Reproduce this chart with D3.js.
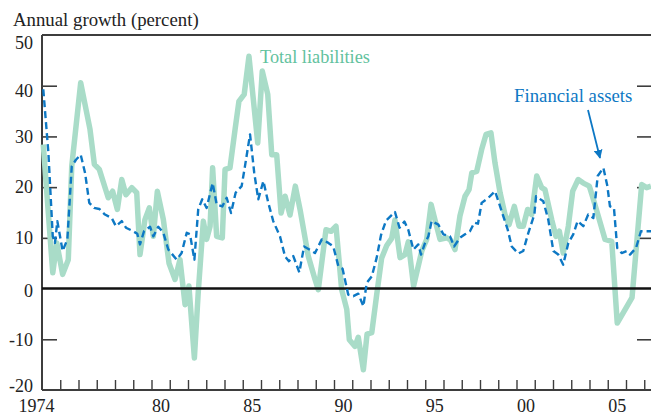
<!DOCTYPE html>
<html><head><meta charset="utf-8">
<script src="https://cdn.jsdelivr.net/npm/d3@7"></script>
<style>
html,body{margin:0;padding:0;background:#fff;}
svg{display:block;font-family:"Liberation Serif","DejaVu Serif",serif;}
</style></head>
<body><svg id="c" width="651" height="415"></svg>
<script>
// ---- data ----
const liabYears = [1974.07,1974.59,1974.81,1975.13,1975.44,1975.63,1976.12,1976.63,1976.87,1977.14,1977.63,1977.87,1978.13,1978.37,1978.60,1978.92,1979.19,1979.37,1979.64,1979.88,1980.10,1980.32,1980.65,1980.96,1981.29,1981.56,1981.84,1982.05,1982.35,1982.56,1982.84,1983.02,1983.21,1983.35,1983.57,1983.88,1984.03,1984.30,1984.58,1984.79,1985.08,1985.34,1985.58,1985.82,1986.07,1986.37,1986.59,1986.86,1987.10,1987.32,1987.59,1987.88,1988.14,1988.59,1988.96,1989.14,1989.56,1989.84,1990.11,1990.42,1990.70,1990.84,1991.15,1991.33,1991.61,1991.81,1992.07,1992.34,1992.61,1992.89,1993.16,1993.34,1993.62,1993.89,1994.07,1994.36,1994.81,1995.08,1995.32,1995.53,1995.81,1996.18,1996.38,1996.63,1996.90,1997.18,1997.40,1997.55,1997.82,1998.09,1998.33,1998.60,1998.82,1999.10,1999.37,1999.59,1999.88,2000.14,2000.37,2000.61,2000.83,2001.11,2001.38,2001.56,2001.93,2002.16,2002.35,2002.56,2002.84,2003.08,2003.38,2003.66,2003.99,2004.21,2004.48,2004.85,2005.22,2005.52,2006.33,2006.86,2007.13,2007.37];
const liabValues = [28.4,3.1,9.0,2.8,5.7,24.1,40.6,31.4,24.5,23.5,17.9,19.2,15.6,21.5,18.5,19.9,18.9,6.7,13.6,15.9,10.3,19.2,13.6,5.0,1.8,5.7,-3.2,0.5,-13.7,-0.8,13.3,9.7,12.3,23.8,10.3,10.0,23.5,23.8,31.4,36.9,38.3,45.8,37.3,28.7,42.9,38.3,26.4,26.4,14.9,18.2,14.5,20.2,15.6,6.4,1.8,-0.2,11.6,11.3,12.3,-0.2,-4.1,-10.1,-11.4,-9.6,-16.0,-9.0,-8.7,-1.2,6.0,8.5,9.9,13.5,6.1,6.7,9.2,0.5,7.4,9.7,16.6,13.6,9.7,10.0,9.6,7.7,14.3,18.2,19.5,22.8,23.1,27.4,30.4,30.7,24.8,18.9,14.6,12.6,16.2,12.3,12.3,15.6,14.6,22.2,19.9,19.5,13.6,10.3,11.3,7.0,12.3,19.2,21.5,20.8,20.2,17.6,14.3,9.7,9.3,-6.8,-1.8,20.5,19.9,20.2];

const assetYears = [1974.07,1974.35,1974.59,1974.71,1974.84,1975.13,1975.39,1975.63,1975.86,1976.12,1976.36,1976.59,1976.85,1977.14,1977.45,1977.82,1978.05,1978.37,1978.60,1979.00,1979.22,1979.37,1979.59,1979.92,1980.10,1980.37,1980.65,1980.92,1981.38,1981.65,1981.93,1982.11,1982.35,1982.56,1982.78,1983.02,1983.35,1983.57,1983.88,1984.12,1984.36,1984.61,1984.94,1985.12,1985.40,1985.63,1985.85,1986.13,1986.40,1986.67,1987.04,1987.32,1987.53,1987.77,1988.10,1988.36,1988.65,1988.96,1989.33,1989.69,1989.96,1990.24,1990.47,1990.78,1991.06,1991.33,1991.61,1991.79,1992.07,1992.34,1992.58,1992.85,1993.34,1993.59,1993.86,1994.07,1994.35,1994.62,1994.77,1994.99,1995.17,1995.35,1995.72,1995.99,1996.36,1996.58,1996.90,1997.18,1997.45,1997.69,1997.89,1998.09,1998.46,1998.82,1999.04,1999.22,1999.52,1999.74,2000.10,2000.37,2000.65,2000.98,2001.07,2001.47,2001.74,2002.02,2002.29,2002.56,2002.84,2003.11,2003.35,2003.66,2003.93,2004.21,2004.45,2004.76,2004.98,2005.12,2005.34,2005.52,2005.76,2006.04,2006.22,2006.55,2006.82,2007.37];
const assetValues = [39.3,26.8,10.3,9.0,13.3,7.4,9.7,24.1,25.4,26.4,22.8,16.9,15.9,15.7,14.6,13.9,12.3,13.3,12.0,11.3,10.8,8.7,11.3,12.2,10.3,12.2,11.0,7.7,5.7,7.0,11.0,10.7,5.7,15.6,17.6,15.9,20.8,16.6,16.2,17.9,14.9,18.9,20.2,24.1,30.4,22.8,17.6,21.2,16.9,13.3,10.3,6.3,5.4,6.4,3.2,8.3,7.7,7.0,9.7,9.0,8.3,4.4,3.9,-1.2,-1.5,-1.0,-3.5,1.1,2.4,6.1,10.6,13.4,15.1,12.0,13.2,11.6,7.7,8.7,6.7,9.0,10.3,13.3,12.6,10.7,10.3,8.3,10.0,10.7,11.3,13.0,12.8,16.9,17.9,19.2,16.9,14.9,11.6,8.3,6.9,7.4,11.0,14.6,18.2,17.2,13.6,7.4,6.7,4.7,9.0,10.7,13.3,12.3,14.6,13.9,22.2,23.8,20.2,16.2,15.9,8.0,7.0,7.4,6.7,8.0,11.3,11.3];

const yTicks = [-20,-10,0,10,20,30,40,50];
const yTickLabels = ["-20","-10","0","10","20","30","40","50"];
const xLabelYears = [1974,1980,1985,1990,1995,2000,2005];
const xLabelTexts = ["1974","80","85","90","95","00","05"];
const titleText = "Annual growth (percent)";
const liabLabel = "Total liabilities";
const assetLabel = "Financial assets";

// ---- layout ----
const svg = d3.select("#c");
const mL = 42, mR = 651, mT = 35, mB = 390;
const x = d3.scaleLinear().domain([1974, 2007.37]).range([mL, mR]);
const y = d3.scaleLinear().domain([-20, 50]).range([mB, mT]);
const axisColor = "#3d3d3d";
const green = "#a9dcc8", greenText = "#62c29e", blue = "#0d78c4";

// title
svg.append("text").attr("x", 13).attr("y", 26).attr("font-size", 18.8).attr("fill", "#222").text(titleText);

// left axis (inward ticks, labels outside)
const labelShift = {"50": 8, "40": 5, "0": 2, "-20": -4};
const yAxisL = d3.axisLeft(y).tickValues(yTicks).tickSizeInner(-15).tickSizeOuter(0).tickPadding(9)
  .tickFormat((d,i) => yTickLabels[i]);
const gL = svg.append("g").attr("transform", `translate(${mL},0)`).call(yAxisL);
gL.select(".domain").remove();
gL.selectAll(".tick line").attr("stroke", axisColor).attr("stroke-width", 1.6)
  .attr("display", d => (d === 40 || d === 30 || d === 20 || d === 10 || d === -10) ? null : "none");
gL.selectAll(".tick text").attr("font-size", 18).attr("font-family", "Liberation Serif").attr("fill", "#222")
  .attr("y", d => labelShift[String(d)] || 0);

// right ticks (inward)
const yAxisR = d3.axisRight(y).tickValues(yTicks.filter(d => d > -20 && d < 50 && d !== 0)).tickSizeInner(-14).tickSizeOuter(0).tickFormat("");
const gR = svg.append("g").attr("transform", `translate(${mR},0)`).call(yAxisR);
gR.select(".domain").remove();
gR.selectAll(".tick line").attr("stroke", axisColor).attr("stroke-width", 1.6);

// bottom year ticks
const yearTicks = d3.range(1975, 2008);
const xAxisTicks = d3.axisBottom(x).tickValues(yearTicks).tickSizeInner(-10).tickSizeOuter(0).tickFormat("");
const gB = svg.append("g").attr("transform", `translate(0,${mB})`).call(xAxisTicks);
gB.select(".domain").remove();
gB.selectAll(".tick line").attr("stroke", axisColor).attr("stroke-width", 1.4);

// bottom labels centred on the year
const xAxisLabels = d3.axisBottom(x).tickValues(xLabelYears.map(d => d + 0.5)).tickSize(0).tickPadding(0)
  .tickFormat((d,i) => xLabelTexts[i]);
const gBL = svg.append("g").attr("transform", `translate(0,${mB})`).call(xAxisLabels);
gBL.select(".domain").remove();
gBL.selectAll(".tick text").attr("font-size", 18).attr("font-family", "Liberation Serif").attr("fill", "#222")
  .attr("y", 21.5).attr("dy", null)
  .attr("dx", (d,i) => i === 0 ? -15 : 0);

// frame lines
svg.append("line").attr("x1", mL).attr("x2", mR).attr("y1", mT).attr("y2", mT).attr("stroke", axisColor).attr("stroke-width", 2);
svg.append("line").attr("x1", mL).attr("x2", mL).attr("y1", mT).attr("y2", mB).attr("stroke", axisColor).attr("stroke-width", 2);
svg.append("line").attr("x1", mL).attr("x2", mR).attr("y1", mB).attr("y2", mB).attr("stroke", axisColor).attr("stroke-width", 2);

// series
const liab = liabYears.map((t,i) => [t, liabValues[i]]);
const assets = assetYears.map((t,i) => [t, assetValues[i]]);
const line = d3.line().x(d => x(d[0])).y(d => y(d[1]));

svg.append("path").datum(liab).attr("d", line).attr("fill", "none").attr("stroke", green)
  .attr("stroke-width", 5.5).attr("stroke-linejoin", "round");

// zero line
svg.append("line").attr("x1", mL).attr("x2", mR).attr("y1", y(0)).attr("y2", y(0)).attr("stroke", "#111").attr("stroke-width", 2.6);

svg.append("path").datum(assets).attr("d", line).attr("fill", "none").attr("stroke", blue)
  .attr("stroke-width", 2.4).attr("stroke-dasharray", "7,4").attr("stroke-linejoin", "round");

// labels
svg.append("text").attr("x", 260).attr("y", 63).attr("font-size", 18.3).attr("fill", greenText).text(liabLabel);
svg.append("text").attr("x", 514).attr("y", 102).attr("font-size", 18.8).attr("fill", blue).text(assetLabel);

// arrow
const defs = svg.append("defs");
defs.append("marker").attr("id", "ah").attr("viewBox", "0 0 10 10").attr("refX", 9).attr("refY", 5)
  .attr("markerWidth", 5).attr("markerHeight", 5).attr("orient", "auto-start-reverse")
  .append("path").attr("d", "M0,0 L10,5 L0,10 Z").attr("fill", blue);
svg.append("line").attr("x1", 588).attr("y1", 110).attr("x2", 600).attr("y2", 158)
  .attr("stroke", blue).attr("stroke-width", 1.8).attr("marker-end", "url(#ah)");
</script></body></html>
